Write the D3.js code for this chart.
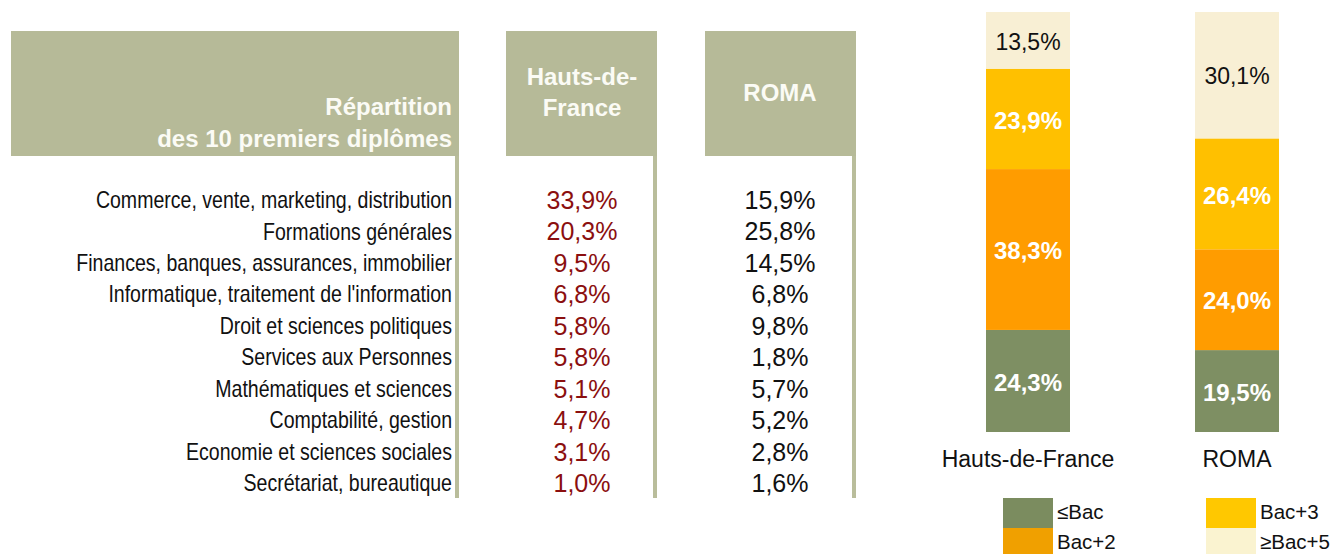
<!DOCTYPE html>
<html>
<head>
<meta charset="utf-8">
<script src="https://cdn.jsdelivr.net/npm/d3@7"></script>
<style>
  html, body { margin: 0; padding: 0; background: #fff; }
  svg { display: block; }
</style>
</head>
<body>
<svg id="chart" width="1333" height="554"></svg>
<script>
// ---- Data ----
const categories = [
  "Commerce, vente, marketing, distribution",
  "Formations générales",
  "Finances, banques, assurances, immobilier",
  "Informatique, traitement de l'information",
  "Droit et sciences politiques",
  "Services aux Personnes",
  "Mathématiques et sciences",
  "Comptabilité, gestion",
  "Economie et sciences sociales",
  "Secrétariat, bureautique"
];
const hdfValues  = [33.9, 20.3, 9.5, 6.8, 5.8, 5.8, 5.1, 4.7, 3.1, 1.0];
const romaValues = [15.9, 25.8, 14.5, 6.8, 9.8, 1.8, 5.7, 5.2, 2.8, 1.6];

const groups = ["Hauts-de-France", "ROMA"];
const levels = ["≤Bac", "Bac+2", "Bac+3", "≥Bac+5"];
const hdfLevels  = [24.3, 38.3, 23.9, 13.5];
const romaLevels = [19.5, 24.0, 26.4, 30.1];

const headerLines = [["Répartition", "des 10 premiers diplômes"], ["Hauts-de-", "France"], ["ROMA"]];

// ---- Styles ----
const headerFill = "#b6ba98";
const lineFill = "#b9bd9b";
const levelColors = ["#7e8f63", "#ff9c00", "#ffc000", "#f8efd4"];
const legendColors = ["#7b8c5f", "#f0a000", "#ffc800", "#faf3d0"];
const levelTextColors = ["#ffffff", "#ffffff", "#ffffff", "#111111"];
const levelWeights = ["bold", "bold", "bold", "normal"];
const FONT = "'Liberation Sans', Arial, sans-serif";

const fmt = v => d3.format(".1f")(v).replace(".", ",") + "%";

const svg = d3.select("#chart");

// ---- Table ----
const cols = [
  {x0: 11, x1: 459},
  {x0: 506, x1: 657},
  {x0: 705, x1: 856}
];
const headerTop = 31, headerBottom = 156, tableBottom = 498;

const table = svg.append("g");
table.selectAll("rect.hdr").data(cols).join("rect")
  .attr("class", "hdr")
  .attr("x", d => d.x0).attr("y", headerTop)
  .attr("width", d => d.x1 - d.x0).attr("height", headerBottom - headerTop)
  .attr("fill", headerFill);
table.selectAll("rect.vline").data(cols).join("rect")
  .attr("class", "vline")
  .attr("x", d => d.x1 - 4).attr("y", headerBottom)
  .attr("width", 4).attr("height", tableBottom - headerBottom)
  .attr("fill", lineFill);

// header texts
const headerBaselines = [[115, 147], [85, 116], [101]];
const headerAnchor = [{a: "end", x: 452}, {a: "middle", x: 582}, {a: "middle", x: 780}];
headerLines.forEach((lines, i) => {
  lines.forEach((t, j) => {
    table.append("text")
      .attr("x", headerAnchor[i].x).attr("y", headerBaselines[i][j])
      .attr("text-anchor", headerAnchor[i].a)
      .attr("font-family", FONT).attr("font-weight", "bold")
      .attr("font-size", 24).attr("fill", "#fbfbf5")
      .text(t);
  });
});

const yRow = d3.scalePoint().domain(categories).range([200, 483]);

// category labels (condensed, like Arial Narrow)
table.selectAll("text.cat").data(categories).join("text")
  .attr("class", "cat")
  .attr("transform", d => `translate(452,${yRow(d)}) scale(0.85,1)`)
  .attr("dy", "0.35em")
  .attr("text-anchor", "end")
  .attr("font-family", FONT).attr("font-size", 23)
  .attr("fill", "#111").text(d => d);

table.selectAll("text.hdf").data(hdfValues).join("text")
  .attr("class", "hdf")
  .attr("x", 582).attr("y", (d, i) => yRow(categories[i])).attr("dy", "0.36em")
  .attr("text-anchor", "middle")
  .attr("font-family", FONT).attr("font-size", 25)
  .attr("fill", "#8b0f0f").text(d => fmt(d));

table.selectAll("text.roma").data(romaValues).join("text")
  .attr("class", "roma")
  .attr("x", 780).attr("y", (d, i) => yRow(categories[i])).attr("dy", "0.36em")
  .attr("text-anchor", "middle")
  .attr("font-family", FONT).attr("font-size", 25)
  .attr("fill", "#111").text(d => fmt(d));

// ---- Stacked bars ----
const x = d3.scalePoint().domain(groups).range([1028, 1237]);
const barW = 84;
const y = d3.scaleLinear().domain([0, 100]).range([432, 12]);

const rows = groups.map((g, gi) => {
  const vals = gi === 0 ? hdfLevels : romaLevels;
  const o = {group: g};
  levels.forEach((l, li) => o[l] = vals[li]);
  return o;
});
const series = d3.stack().keys(levels)(rows);

const bars = svg.append("g");
series.forEach((s, li) => {
  const g = bars.append("g");
  g.selectAll("rect").data(s).join("rect")
    .attr("x", d => x(d.data.group) - barW / 2)
    .attr("y", d => y(d[1]))
    .attr("width", barW)
    .attr("height", d => y(d[0]) - y(d[1]))
    .attr("fill", levelColors[li]);
  g.selectAll("text").data(s).join("text")
    .attr("x", d => x(d.data.group))
    .attr("y", d => (y(d[0]) + y(d[1])) / 2 + 1)
    .attr("dy", "0.36em")
    .attr("text-anchor", "middle")
    .attr("font-family", FONT)
    .attr("font-weight", levelWeights[li])
    .attr("font-size", levelWeights[li] === "bold" ? 24 : 23)
    .attr("fill", levelTextColors[li])
    .text(d => fmt(d.data[s.key]));
});

// group labels
bars.selectAll("text.grp").data(groups).join("text")
  .attr("class", "grp")
  .attr("x", d => x(d)).attr("y", 467)
  .attr("text-anchor", "middle")
  .attr("font-family", FONT).attr("font-size", 23)
  .attr("fill", "#111").text(d => d);

// ---- Legend ----
const legendPos = [
  {x: 1003, y: 498}, {x: 1003, y: 528}, {x: 1206, y: 498}, {x: 1206, y: 528}
];
const legend = svg.append("g");
levels.forEach((l, i) => {
  legend.append("rect")
    .attr("x", legendPos[i].x).attr("y", legendPos[i].y)
    .attr("width", 50).attr("height", 30)
    .attr("fill", legendColors[i]);
  legend.append("text")
    .attr("x", legendPos[i].x + 54).attr("y", legendPos[i].y + 21)
    .attr("font-family", FONT).attr("font-size", 20.5)
    .attr("fill", "#111").text(l);
});
</script>
</body>
</html>
